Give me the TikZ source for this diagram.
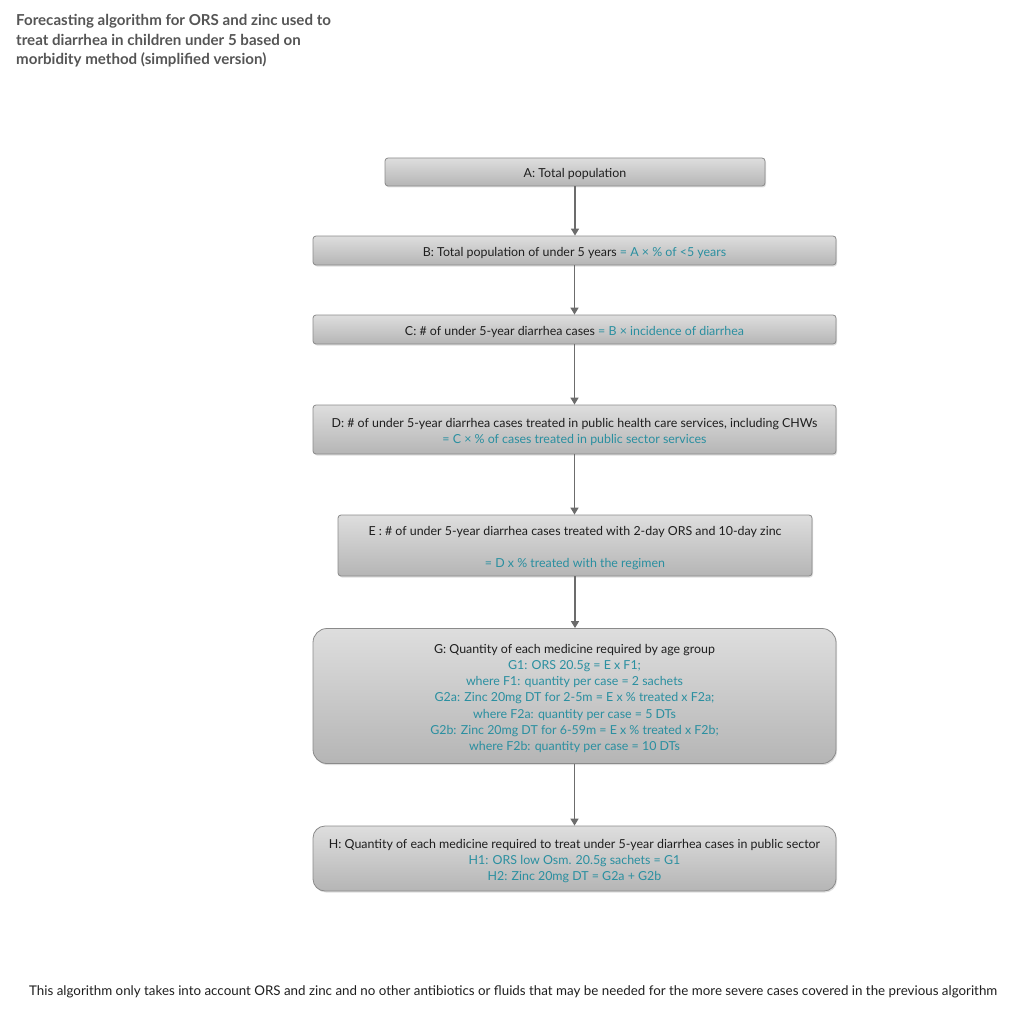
\documentclass[tikz,border=0pt]{standalone}
\usepackage{fontspec}
\setmainfont{Lato}
\usetikzlibrary{arrows.meta,shadows}
\definecolor{tl}{HTML}{2A8FA0}
\definecolor{txt}{HTML}{1E1E1E}
\definecolor{ttl}{HTML}{555555}
\definecolor{edge}{HTML}{8A8A8A}
\newcommand\tpstrut{\rule{0pt}{14pt}}
\begin{document}
\begin{tikzpicture}[x=1pt,y=-1pt,
  box/.style={draw=edge, line width=0.8pt, rounded corners=3pt, top color=gray!26, bottom color=gray!58,
    drop shadow={opacity=0.25, shadow xshift=1pt, shadow yshift=-1.5pt},
    align=center, font=\fontsize{12.4}{16.2}\selectfont, text=txt, inner sep=0pt},
  bigbox/.style={box, rounded corners=14pt},
  arr/.style={draw=gray!85!black, line width=1.5pt, -{Triangle[length=7pt,width=8pt]}}]
\useasboundingbox (0,0) rectangle (1024,1024);

\node[anchor=north west, align=left, text=ttl, font=\bfseries\fontsize{15.1}{19.5}\selectfont, inner sep=0pt] (title) at (16,14.5)
  {Forecasting algorithm for ORS and zinc used to\\treat diarrhea in children under 5 based on\\morbidity method (simplified version)};

\node[box, minimum width=380pt, minimum height=28pt] (A) at (575,172) {\tpstrut A: Total population};
\node[box, minimum width=523pt, minimum height=29pt] (B) at (574.5,250.5)
  {\tpstrut B: Total population of under 5 years \textcolor{tl}{= A × \% of <5 years}};
\node[box, minimum width=523pt, minimum height=29pt] (C) at (574.5,329.5)
  {\tpstrut C: \# of under 5-year diarrhea cases \textcolor{tl}{= B × incidence of diarrhea}};
\node[box, minimum width=523pt, minimum height=49pt] (D) at (574.5,429.5)
  {\tpstrut D: \# of under 5-year diarrhea cases treated in public health care services, including CHWs\\
   \textcolor{tl}{= C × \% of cases treated in public sector services}};
\node[box, minimum width=474pt, minimum height=61pt] (E) at (575,545.5)
  {\tpstrut E : \# of under 5-year diarrhea cases treated with 2-day ORS and 10-day zinc\\[16.5pt]
   \textcolor{tl}{= D x \% treated with the regimen}};
\node[bigbox, minimum width=523pt, minimum height=135pt] (G) at (574.5,696)
  {\tpstrut G: Quantity of each medicine required by age group\\
   \textcolor{tl}{G1: ORS 20.5g = E x F1;}\\
   \textcolor{tl}{where F1: quantity per case = 2 sachets}\\
   \textcolor{tl}{G2a: Zinc 20mg DT for 2-5m = E x \% treated x F2a;}\\
   \textcolor{tl}{where F2a: quantity per case = 5 DTs}\\
   \textcolor{tl}{G2b: Zinc 20mg DT for 6-59m = E x \% treated x F2b;}\\
   \textcolor{tl}{where F2b: quantity per case = 10 DTs}};
\node[bigbox, rounded corners=12pt, minimum width=523pt, minimum height=65pt] (H) at (574.5,858.5)
  {\tpstrut H: Quantity of each medicine required to treat under 5-year diarrhea cases in public sector\\
   \textcolor{tl}{H1: ORS low Osm. 20.5g sachets = G1}\\
   \textcolor{tl}{H2: Zinc 20mg DT = G2a + G2b}};

\draw[arr] (A.south) -- (A.south |- B.north);
\draw[arr] (B.south) -- (B.south |- C.north);
\draw[arr] (C.south) -- (C.south |- D.north);
\draw[arr] (D.south) -- (D.south |- E.north);
\draw[arr] (E.south) -- (E.south |- G.north);
\draw[arr] (G.south) -- (G.south |- H.north);

\node[anchor=west, inner sep=0pt, text=txt, font=\fontsize{13.35}{15}\selectfont] (foot) at (29,992)
  {This algorithm only takes into account ORS and zinc and no other antibiotics or fluids that may be needed for the more severe cases covered in the previous algorithm};
\end{tikzpicture}
\end{document}
